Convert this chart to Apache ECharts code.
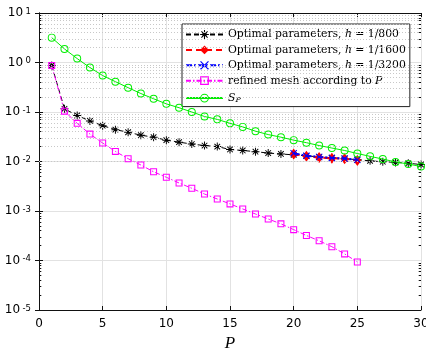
<!DOCTYPE html>
<html>
<head>
<meta charset="utf-8">
<script src="https://cdn.jsdelivr.net/npm/echarts@6/dist/echarts.min.js"></script>
<style>
  html, body { margin: 0; padding: 0; background: #fff; }
  #chart { width: 426px; height: 353px; }
</style>
</head>
<body>
<div id="chart"></div>
<script>
// Polynomial degree P
const P_ALL = [1, 2, 3, 4, 5, 6, 7, 8, 9, 10, 11, 12, 13, 14, 15, 16, 17, 18, 19, 20, 21, 22, 23, 24, 25, 26, 27, 28, 29, 30]
const P_MESH = [1, 2, 3, 4, 5, 6, 7, 8, 9, 10, 11, 12, 13, 14, 15, 16, 17, 18, 19, 20, 21, 22, 23, 24, 25]
const P_FINE = [20, 21, 22, 23, 24, 25]

// Error values
const OPT_800 = [0.87, 0.116, 0.085, 0.066, 0.053, 0.044, 0.039, 0.034, 0.031, 0.027, 0.0246, 0.0225, 0.021, 0.020, 0.0175,
  0.0167, 0.0158, 0.0148, 0.0142, 0.0136, 0.013, 0.0124, 0.0119, 0.0114, 0.0109, 0.0103, 0.0099, 0.0096, 0.0092, 0.0087]
const OPT_1600 = [0.0142, 0.0127, 0.0121, 0.0116, 0.0114, 0.0105]
const OPT_3200 = [0.0147, 0.0131, 0.0124, 0.0118, 0.0115, 0.0108]
const REFINED = [0.87, 0.104, 0.059, 0.0358, 0.0236, 0.016, 0.0114, 0.0085, 0.0062, 0.0048, 0.00368, 0.00288, 0.0022,
  0.00175, 0.00139, 0.0011, 0.00087, 0.00069, 0.00055, 0.00042, 0.00032, 0.00025, 0.00019, 0.000136, 0.0000932]
const S_P = [3.18, 1.88, 1.2, 0.79, 0.545, 0.41, 0.31, 0.236, 0.185, 0.146, 0.122, 0.1, 0.081, 0.071, 0.059, 0.05, 0.041,
  0.035, 0.031, 0.027, 0.024, 0.021, 0.0187, 0.0167, 0.0145, 0.0127, 0.0112, 0.0098, 0.0089, 0.0079]

const Y_DECADES = [-5, -4, -3, -2, -1, 0, 1]
const MINOR_STEPS = [2, 3, 4, 5, 6, 7, 8, 9]

// Colors
const C_BLACK = '#000000'
const C_RED = '#ff0000'
const C_BLUE = '#0000ff'
const C_MAGENTA = '#ff00ff'
const C_GREEN = '#00ee00'
const C_GRID = '#e2e2e2'
const C_MINOR = '#c8c8c8'

// Marker paths (hollow shapes so lines show through, like MATLAB)
const SYM_ASTERISK = 'path://M8.8 0L11.2 0L11.2 20L8.8 20ZM0 8.8L20 8.8L20 11.2L0 11.2Z' +
  'M3.85 2.15L17.85 16.15L16.15 17.85L2.15 3.85ZM16.15 2.15L17.85 3.85L3.85 17.85L2.15 16.15Z'
const SYM_X = 'path://M2 0L10 8L18 0L20 2L12 10L20 18L18 20L10 12L2 20L0 18L8 10L0 2Z'
const SYM_SQUARE = 'path://M0 0L10 0L10 10L0 10ZM1.5 1.5L1.5 8.5L8.5 8.5L8.5 1.5Z'
const SYM_RING = 'path://M0 10A10 10 0 1 0 20 10A10 10 0 1 0 0 10ZM2.4 10A7.6 7.6 0 1 1 17.6 10A7.6 7.6 0 1 1 2.4 10Z'

const pairs = (xs, ys) => xs.map((x, i) => [x, ys[i]])

// minor log gridlines and minor ticks
const minorVals = []
Y_DECADES.slice(0, -1).forEach((e) => MINOR_STEPS.forEach((k) => minorVals.push(k * Math.pow(10, e))))
const minorGrid = minorVals.map((v) => ({ yAxis: v }))
const minorTicks = []
minorVals.forEach((v) => {
  minorTicks.push([{ coord: [0, v] }, { coord: [0.18, v] }])
  minorTicks.push([{ coord: [29.82, v] }, { coord: [30, v] }])
})

const NAMES = ['opt800', 'opt1600', 'opt3200', 'refined', 'sp']
const LEGEND_TEXT = {
  opt800: 'Optimal parameters, {i|h} = 1/800',
  opt1600: 'Optimal parameters, {i|h} = 1/1600',
  opt3200: 'Optimal parameters, {i|h} = 1/3200',
  refined: 'refined mesh according to {i|P}',
  sp: '{i|S}{sub|P}',
}

const chart = echarts.init(document.getElementById('chart'))

const serif = 'DejaVu Serif'
const sans = 'DejaVu Sans'
const LFS = 10.8

chart.setOption({
  animation: false,
  backgroundColor: '#fff',
  grid: { left: 39, right: 5, top: 13, bottom: 43, outerBoundsMode: 'none', containLabel: false },
  xAxis: [
    {
      type: 'value',
      min: 0,
      max: 30,
      interval: 5,
      name: 'P',
      nameLocation: 'middle',
      nameGap: 24,
      nameTextStyle: { fontFamily: 'Liberation Serif', fontStyle: 'italic', fontSize: 17, color: '#000' },
      axisLine: { show: true, lineStyle: { color: '#111', width: 1 } },
      axisTick: { show: true, inside: true, length: 4, lineStyle: { color: '#111' } },
      axisLabel: { fontFamily: sans, fontSize: 12, color: '#000', margin: 8 },
      splitLine: { show: true, lineStyle: { color: C_GRID, width: 1 } },
    },
    {
      type: 'value',
      position: 'top',
      min: 0,
      max: 30,
      interval: 5,
      axisLine: { show: true, lineStyle: { color: '#111', width: 1 } },
      axisTick: { show: true, inside: true, length: 4, lineStyle: { color: '#111' } },
      axisLabel: { show: false },
      splitLine: { show: false },
    },
  ],
  yAxis: [
    {
      type: 'log',
      logBase: 10,
      min: 1e-5,
      max: 10,
      axisLine: { show: true, lineStyle: { color: '#111', width: 1 } },
      axisTick: { show: true, inside: true, length: 4, lineStyle: { color: '#111' } },
      axisLabel: {
        margin: 8,
        color: '#000',
        formatter: (v) => '{b|10}{e|' + Math.round(Math.log10(v)) + '}',
        rich: {
          b: { fontFamily: sans, fontSize: 12, lineHeight: 12, padding: [4, 0, 0, 0], verticalAlign: 'bottom', color: '#000' },
          e: { fontFamily: sans, fontSize: 8.5, lineHeight: 9, padding: [0, 0, 0, 2.5], verticalAlign: 'top', color: '#000' },
        },
      },
      splitLine: { show: true, lineStyle: { color: C_GRID, width: 1 } },
    },
    {
      type: 'log',
      logBase: 10,
      position: 'right',
      min: 1e-5,
      max: 10,
      axisLine: { show: true, lineStyle: { color: '#111', width: 1 } },
      axisTick: { show: true, inside: true, length: 4, lineStyle: { color: '#111' } },
      axisLabel: { show: false },
      splitLine: { show: false },
    },
  ],
  legend: {
    data: NAMES,
    orient: 'vertical',
    left: 182,
    top: 24,
    padding: [5, 4, 3, 3],
    itemWidth: 37,
    itemHeight: 11,
    itemGap: 4.4,
    backgroundColor: '#fff',
    borderColor: '#222',
    borderWidth: 1,
    borderRadius: 0,
    selectedMode: false,
    formatter: (name) => LEGEND_TEXT[name],
    textStyle: {
      fontFamily: serif,
      fontSize: LFS,
      lineHeight: 11,
      color: '#000',
      rich: {
        i: { fontFamily: serif, fontStyle: 'italic', fontSize: LFS, lineHeight: 11 },
        sub: { fontFamily: serif, fontStyle: 'italic', fontSize: 8, lineHeight: 8, padding: [5, 0, 0, 0], verticalAlign: 'bottom' },
      },
    },
  },
  series: [
    {
      name: 'grid',
      type: 'line',
      data: [],
      z: 1,
      silent: true,
      markLine: {
        silent: true,
        symbol: 'none',
        animation: false,
        label: { show: false },
        lineStyle: { color: C_MINOR, type: [1, 2], width: 1 },
        emphasis: { disabled: true },
        data: minorGrid,
      },
    },
    {
      name: 'ticks',
      type: 'line',
      data: [],
      z: 1,
      silent: true,
      markLine: {
        silent: true,
        symbol: 'none',
        animation: false,
        label: { show: false },
        lineStyle: { color: '#111', type: 'solid', width: 1 },
        emphasis: { disabled: true },
        data: minorTicks,
      },
    },
    {
      name: 'opt800',
      type: 'line',
      z: 2,
      data: pairs(P_ALL, OPT_800),
      symbol: SYM_ASTERISK,
      symbolSize: 8,
      itemStyle: { color: C_BLACK },
      lineStyle: { color: C_BLACK, width: 1, type: [5, 3] },
    },
    {
      name: 'opt1600',
      type: 'line',
      z: 3,
      data: pairs(P_FINE, OPT_1600),
      symbol: 'diamond',
      symbolSize: [8, 11],
      itemStyle: { color: C_RED },
      lineStyle: { color: C_RED, width: 2, type: [6, 4] },
    },
    {
      name: 'opt3200',
      type: 'line',
      z: 4,
      data: pairs(P_FINE, OPT_3200),
      symbol: SYM_X,
      symbolSize: 7,
      itemStyle: { color: C_BLUE },
      lineStyle: { color: C_BLUE, width: 2, type: [6, 2, 2, 2] },
    },
    {
      name: 'refined',
      type: 'line',
      z: 5,
      data: pairs(P_MESH, REFINED),
      symbol: SYM_SQUARE,
      symbolSize: 7,
      itemStyle: { color: C_MAGENTA },
      lineStyle: { color: C_MAGENTA, width: 1, type: [5, 2, 1.5, 2] },
    },
    {
      name: 'sp',
      type: 'line',
      z: 6,
      data: pairs(P_ALL, S_P),
      symbol: SYM_RING,
      symbolSize: 8,
      itemStyle: { color: C_GREEN },
      lineStyle: { color: C_GREEN, width: 1 },
    },
  ],
})
</script>
</body>
</html>
